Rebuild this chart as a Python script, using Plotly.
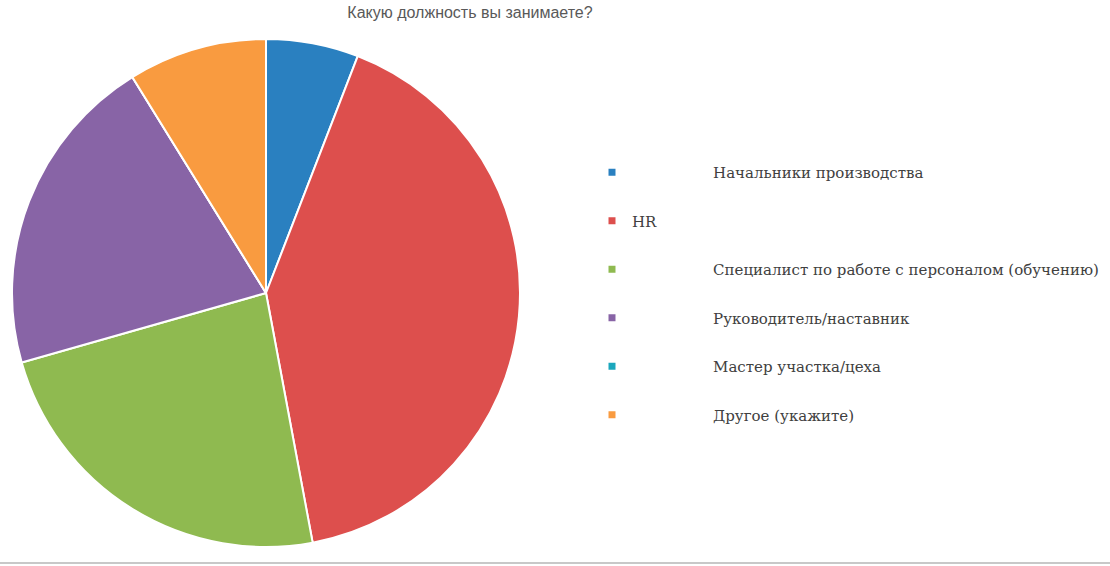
import plotly.graph_objects as go

title_text = "Какую должность вы занимаете?"
categories = [
    "Начальники производства",
    "HR",
    "Специалист по работе с персоналом (обучению)",
    "Руководитель/наставник",
    "Мастер участка/цеха",
    "Другое (укажите)",
]
counts = [2, 14, 8, 7, 0, 3]
colors = ["#2A80C0", "#DD4F4D", "#8FBA50", "#8864A6", "#1BA7BD", "#F99B40"]

W, H = 1110, 566
fig = go.Figure()

fig.add_trace(go.Pie(
    labels=categories,
    values=counts,
    sort=False,
    direction="clockwise",
    rotation=0,
    marker=dict(colors=colors, line=dict(color="white", width=2)),
    textinfo="none",
    hoverinfo="label+value+percent",
    showlegend=False,
    domain=dict(x=[12 / W, 520 / W], y=[19 / H, 527 / H]),
))

# legend entries (one per category), mirroring the original's indented labels
NBSP = "\u00a0"
for i, (cat, col) in enumerate(zip(categories, colors)):
    indent = "" if cat == "HR" else NBSP * 17
    fig.add_trace(go.Scatter(
        x=[None], y=[None], mode="markers",
        marker=dict(symbol="square", size=7, color=col),
        name=indent + cat,
        legendgroup=f"g{i}",
        showlegend=True,
        hoverinfo="skip",
    ))

fig.update_layout(
    width=W, height=H,
    margin=dict(l=0, r=0, t=0, b=0, autoexpand=False),
    paper_bgcolor="white",
    plot_bgcolor="white",
    xaxis=dict(visible=False),
    yaxis=dict(visible=False),
    title=dict(
        text=title_text,
        x=470 / W, xanchor="center",
        y=1 - 12.5 / H, yanchor="middle",
        font=dict(family="Liberation Sans, Arial, sans-serif", size=16, color="#595959"),
    ),
    legend=dict(
        x=592 / W, xanchor="left",
        y=1 - 156 / H, yanchor="top",
        font=dict(family="DejaVu Serif, serif", size=15, color="#404040"),
        tracegroupgap=26,
        itemwidth=30,
        bgcolor="rgba(0,0,0,0)",
    ),
    shapes=[
        dict(type="line", xref="paper", yref="paper",
             x0=0, x1=1, y0=3 / H, y1=3 / H,
             line=dict(color="#C8C8C8", width=2)),
    ],
)

fig.write_html(
    "out.html",
    config={"displayModeBar": False},
    post_script="document.body.style.margin='0';document.body.style.overflow='hidden';",
)
